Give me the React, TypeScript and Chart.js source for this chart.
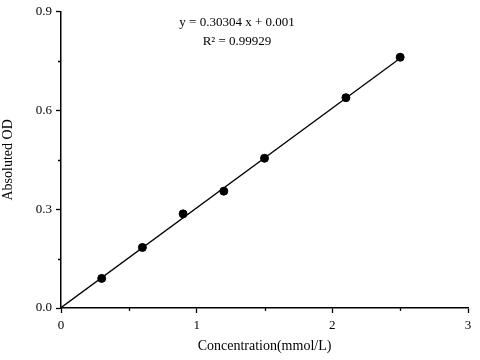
import React, { useEffect, useRef } from "react";
import { Chart, registerables } from "chart.js";

Chart.register(...registerables);

const concX = [0.3, 0.6, 0.9, 1.2, 1.5, 2.1, 2.5];
const odY = [0.09, 0.184, 0.286, 0.355, 0.455, 0.639, 0.762];
const fitX = [0, 2.5];
const fitY = [0.001, 0.759];
const xMajorTicks = [0, 1, 2, 3];
const xMinorTicks = [0.5, 1.5, 2.5];
const yMajorTicks = [0, 0.3, 0.6, 0.9];
const yMinorTicks = [0.15, 0.45, 0.75];
const equationLine = "y = 0.30304 x + 0.001";
const r2Line = "R\u00B2 = 0.99929";
const xTitle = "Concentration(mmol/L)";
const yTitle = "Absoluted OD";

const FONT = "'Liberation Serif', 'Times New Roman', serif";

const extrasPlugin = {
  id: "extras",
  afterDraw(chart: any) {
    const ctx = chart.ctx;
    const xs = chart.scales.x;
    const ys = chart.scales.y;
    const area = chart.chartArea;
    ctx.save();
    ctx.strokeStyle = "#000";
    ctx.lineWidth = 1.3;
    ctx.beginPath();
    xMinorTicks.forEach((v) => {
      const px = Math.round(xs.getPixelForValue(v)) + 0.5;
      ctx.moveTo(px, area.bottom);
      ctx.lineTo(px, area.bottom + 3);
    });
    yMinorTicks.forEach((v) => {
      const py = Math.round(ys.getPixelForValue(v)) + 0.5;
      ctx.moveTo(area.left, py);
      ctx.lineTo(area.left - 3, py);
    });
    ctx.stroke();

    ctx.fillStyle = "#000";
    ctx.font = `13px ${FONT}`;
    ctx.textAlign = "center";
    ctx.textBaseline = "middle";
    ctx.fillText(equationLine, 237, 23);
    ctx.fillText(r2Line, 237, 42);
    ctx.restore();
  },
};

export default function App() {
  const ref = useRef<HTMLCanvasElement | null>(null);

  useEffect(() => {
    if (!ref.current) return;
    const chart = new Chart(ref.current, {
      type: "scatter",
      data: {
        datasets: [
          {
            type: "line",
            data: fitX.map((x, i) => ({ x, y: fitY[i] })),
            borderColor: "#000",
            borderWidth: 1.3,
            pointRadius: 0,
            fill: false,
          } as any,
          {
            type: "scatter",
            data: concX.map((x, i) => ({ x, y: odY[i] })),
            backgroundColor: "#000",
            borderColor: "#000",
            pointRadius: 4,
          },
        ],
      },
      options: {
        responsive: false,
        animation: false,
        layout: { padding: { top: 9, right: 12, left: 0, bottom: 0 } },
        plugins: {
          legend: { display: false },
          tooltip: { enabled: false },
        },
        scales: {
          x: {
            type: "linear",
            min: 0,
            max: 3,
            afterBuildTicks: (scale: any) => {
              scale.ticks = xMajorTicks.map((v) => ({ value: v }));
            },
            afterFit: (scale: any) => {
              scale.height = 52;
            },
            ticks: {
              color: "#000",
              font: { family: FONT, size: 13 },
              padding: 5,
              maxRotation: 0,
              callback: (v: any) => String(v),
            },
            grid: {
              drawOnChartArea: false,
              drawTicks: true,
              tickLength: 5,
              tickColor: "#000",
              tickWidth: 1.3,
            },
            border: { display: true, color: "#000", width: 1.5 },
            title: {
              display: true,
              text: xTitle,
              color: "#000",
              font: { family: FONT, size: 14 },
              padding: { top: 0, bottom: 5 },
            },
          },
          y: {
            type: "linear",
            min: 0,
            max: 0.9,
            afterBuildTicks: (scale: any) => {
              scale.ticks = yMajorTicks.map((v) => ({ value: v }));
            },
            afterFit: (scale: any) => {
              scale.width = 61;
            },
            ticks: {
              color: "#000",
              font: { family: FONT, size: 13 },
              padding: 4,
              callback: (v: any) => Number(v).toFixed(1),
            },
            grid: {
              drawOnChartArea: false,
              drawTicks: true,
              tickLength: 5,
              tickColor: "#000",
              tickWidth: 1.3,
            },
            border: { display: true, color: "#000", width: 1.5 },
            title: {
              display: true,
              text: yTitle,
              color: "#000",
              font: { family: FONT, size: 14 },
              padding: { top: 0, bottom: 0 },
            },
          },
        },
      },
      plugins: [extrasPlugin],
    } as any);
    return () => chart.destroy();
  }, []);

  return (
    <div style={{ position: "absolute", left: 0, top: 0, width: 480, height: 360, background: "#fff" }}>
      <canvas ref={ref} width={480} height={360} style={{ display: "block" }} />
    </div>
  );
}
